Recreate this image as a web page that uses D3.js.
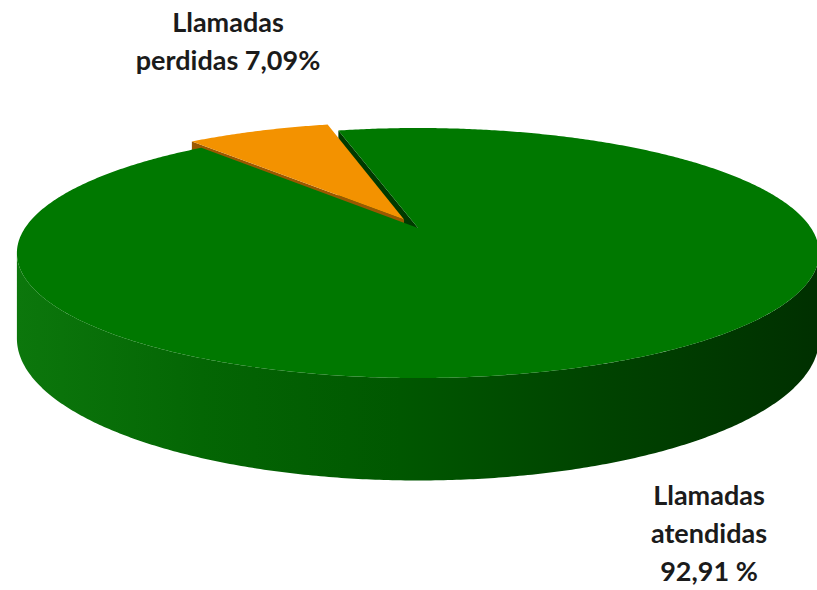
<!DOCTYPE html>
<html><head><meta charset="utf-8">
<script src="https://cdn.jsdelivr.net/npm/d3@7"></script>
<style>html,body{margin:0;padding:0;background:#fff;overflow:hidden}</style>
</head><body>
<svg id="chart" width="817" height="590"></svg>
<script>
// Share of calls: answered vs. lost
const categories = ["Llamadas atendidas", "Llamadas perdidas"];
const values = [92.91, 7.09];
const labelLines = [["Llamadas", "atendidas", "92,91 %"], ["Llamadas", "perdidas 7,09%"]];

// styling
const topColors = ["#007800", "#f39200"];
const cutColors = ["#003a00", "#9a5800"];
const explode = [0, 0.08];
const labelPos = [[709, 505], [228, 32]];
const lineHeight = 38;

const svg = d3.select("#chart");
const deg = Math.PI / 180;

// tilted disc with perspective: u = right, v = back, z = downward (0 top .. 1 bottom)
const cx = 418, cy = 228, a = 393, b = 120, k = 0.2, depth = 82;
function project(u, v, z) {
  const s = 1 + k * v;
  return [cx + a * u / s, cy + (-b * v + depth * z) / s];
}
function pt(off, r, t, z) {
  return project(off[0] + r * Math.sin(t), off[1] + r * Math.cos(t), z);
}
function samples(t0, t1) {
  const n = Math.max(2, Math.ceil(Math.abs(t1 - t0) / (0.5 * deg)));
  return d3.range(n + 1).map(i => t0 + (t1 - t0) * i / n);
}
const line = d3.line().curve(d3.curveLinear);

const pie = d3.pie().sort(null).value(d => d)
  .startAngle(-14 * deg).endAngle(-14 * deg + 2 * Math.PI);
const arcs = pie(values).map((d, i) => {
  const mid = (d.startAngle + d.endAngle) / 2;
  return Object.assign(d, {
    i,
    off: [explode[i] * Math.sin(mid), explode[i] * Math.cos(mid)]
  });
});

// shading for the outer wall, light on the left, dark on the right
const defs = svg.append("defs");
const grad = defs.append("linearGradient").attr("id", "wall")
  .attr("gradientUnits", "userSpaceOnUse")
  .attr("x1", 17).attr("y1", 0).attr("x2", 817).attr("y2", 0);
[[0, "#0c770c"], [0.23, "#046604"], [0.48, "#005700"], [0.73, "#004300"], [1, "#003000"]]
  .forEach(([o, c]) => grad.append("stop").attr("offset", o).attr("stop-color", c));

const g = svg.append("g");

// 1. radial cut faces that turn towards the viewer
arcs.forEach(d => {
  [[d.startAngle, -1], [d.endAngle, 1]].forEach(([t, dir]) => {
    const normal = t + dir * Math.PI / 2;
    if (Math.cos(normal) >= 0) return;
    const p = [pt(d.off, 0, t, 0), pt(d.off, 1, t, 0), pt(d.off, 1, t, 1), pt(d.off, 0, t, 1)];
    g.append("path").attr("d", line(p) + "Z").attr("fill", cutColors[d.i]);
  });
});

// 2. outer wall on the front half (between the two silhouette angles)
const tL = Math.acos(-k), tR = 2 * Math.PI - tL;
arcs.forEach(d => {
  [-2 * Math.PI, 0, 2 * Math.PI].forEach(shift => {
    const v0 = Math.max(d.startAngle, tL + shift), v1 = Math.min(d.endAngle, tR + shift);
    if (v1 <= v0) return;
    const ts = samples(v0, v1);
    const p = ts.map(t => pt(d.off, 1, t, 0))
      .concat(ts.slice().reverse().map(t => pt(d.off, 1, t, 1)));
    g.append("path").attr("d", line(p) + "Z").attr("fill", "url(#wall)");
  });
});

// 3. top faces
arcs.forEach(d => {
  const p = [pt(d.off, 0, 0, 0)].concat(samples(d.startAngle, d.endAngle).map(t => pt(d.off, 1, t, 0)));
  g.append("path").attr("d", line(p) + "Z").attr("fill", topColors[d.i]);
});

// labels
arcs.forEach(d => {
  const [lx, ly] = labelPos[d.i];
  const t = svg.append("text")
    .attr("x", lx).attr("y", ly)
    .attr("text-anchor", "middle")
    .attr("font-family", "Lato, 'Open Sans', sans-serif")
    .attr("font-weight", "bold")
    .attr("font-size", 27)
    .attr("fill", "#1b1b1b");
  labelLines[d.i].forEach((s, j) => {
    t.append("tspan").attr("x", lx).attr("y", ly + j * lineHeight).text(s);
  });
});
</script>
</body></html>
